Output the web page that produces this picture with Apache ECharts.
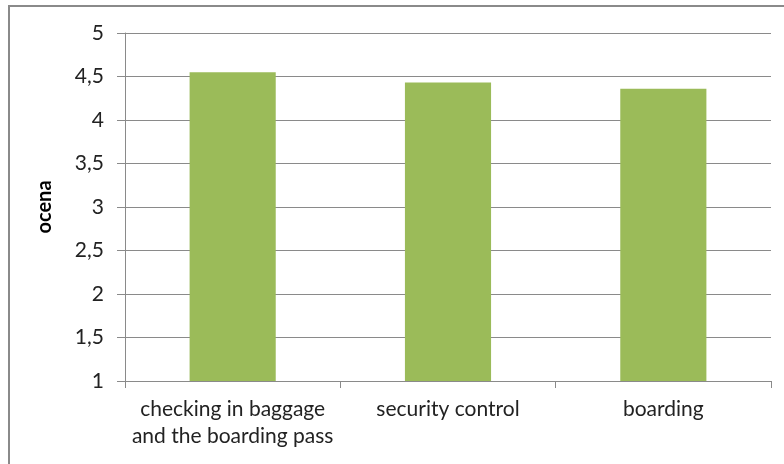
<!DOCTYPE html>
<html>
<head>
<meta charset="utf-8">
<script src="https://cdn.jsdelivr.net/npm/echarts@6/dist/echarts.min.js"></script>
<style>html,body{margin:0;padding:0;background:#fff}#c{width:784px;height:464px}</style>
</head>
<body>
<div id="c"></div>
<script>
var categories = ['checking in baggage\nand the boarding pass', 'security control', 'boarding'];
var values = [4.55, 4.43, 4.36];
var yTicks = [1, 1.5, 2, 2.5, 3, 3.5, 4, 4.5, 5];
var yTitle = 'ocena';

var chart = echarts.init(document.getElementById('c'));
var font = 'Lato, "Open Sans", sans-serif';
chart.setOption({
  animation: false,
  graphic: [{
    type: 'rect', shape: {x: 9, y: 6, width: 800, height: 500},
    style: {fill: 'none', stroke: '#8a8a8a', lineWidth: 2}
  }],
  grid: {left: 125, right: 13, top: 33, bottom: 83},
  xAxis: {
    type: 'category', data: categories,
    axisLine: {lineStyle: {color: '#8a8a8a', width: 1}},
    axisTick: {show: true, length: 7, lineStyle: {color: '#8a8a8a'}},
    axisLabel: {color: '#222', fontFamily: font, fontSize: 21, lineHeight: 27, margin: 15, interval: 0},
  },
  yAxis: {
    type: 'value', min: 1, max: 5, interval: 0.5,
    name: yTitle, nameLocation: 'middle', nameGap: 70, nameRotate: 90,
    nameTextStyle: {fontFamily: font, fontSize: 20, fontWeight: 'bold', color: '#000'},
    axisLine: {show: true, lineStyle: {color: '#8a8a8a'}},
    axisTick: {show: true, length: 8, lineStyle: {color: '#8a8a8a'}},
    splitLine: {lineStyle: {color: '#8a8a8a', width: 1}},
    axisLabel: {color: '#222', fontFamily: font, fontSize: 21, margin: 21,
      formatter: function (v) { return String(v).replace('.', ','); }}
  },
  series: [{
    type: 'bar', data: values, barWidth: '40%',
    itemStyle: {color: '#9bbb59'}
  }]
});
</script>
</body>
</html>
